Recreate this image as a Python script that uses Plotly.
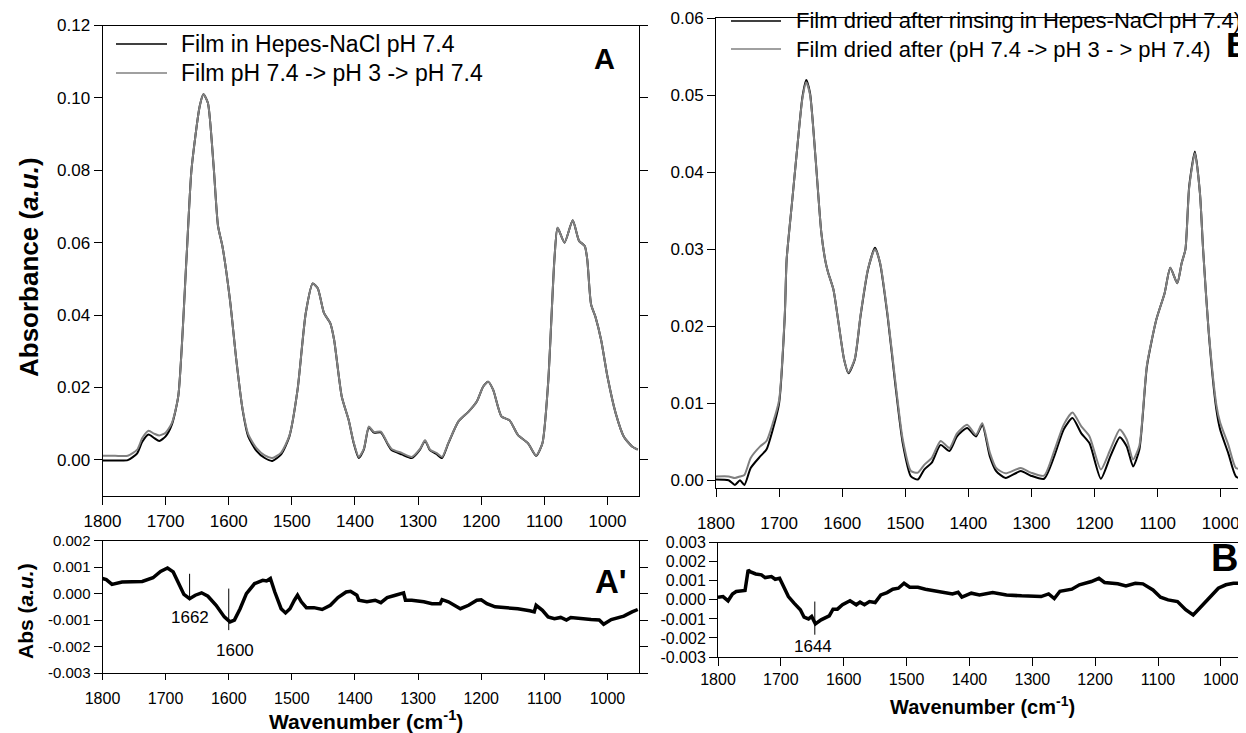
import plotly.graph_objects as go

# ---------------- Panel A : spectra in solution ----------------
wn_A = [1800, 1780, 1760, 1745, 1737, 1727, 1718, 1710, 1700, 1690, 1680, 1667, 1659, 1646, 1640,
        1633, 1624, 1617, 1610, 1598, 1588, 1578, 1569, 1556, 1543, 1531, 1517, 1504, 1491, 1478,
        1467, 1459, 1449, 1439, 1433, 1421, 1410, 1402, 1394, 1386, 1378, 1370, 1359, 1349, 1342,
        1326, 1310, 1297, 1289, 1281, 1271, 1262, 1252, 1236, 1220, 1207, 1197, 1189, 1181, 1168,
        1155, 1142, 1126, 1113, 1103, 1094, 1084, 1079, 1068, 1055, 1045, 1036, 1032, 1026, 1019,
        1010, 1000, 987, 974, 961, 952]
absA_black = [-0.0002, -0.0002, -0.0001, 0.0018, 0.0050, 0.0070, 0.0060, 0.0052, 0.0065, 0.0098, 0.0175,
              0.0554, 0.0802, 0.0977, 0.1010, 0.0986, 0.0812, 0.0646, 0.0590, 0.0441, 0.0276, 0.0138,
              0.0064, 0.0025, 0.0005, -0.0003, 0.0015, 0.0064, 0.0193, 0.0405, 0.0487, 0.0474, 0.0405,
              0.0377, 0.0331, 0.0175, 0.0110, 0.0046, 0.0005, 0.0028, 0.0090, 0.0075, 0.0076, 0.0046,
              0.0027, 0.0015, 0.0005, 0.0028, 0.0053, 0.0026, 0.0016, 0.0005, 0.0046, 0.0106, 0.0133,
              0.0161, 0.0202, 0.0216, 0.0193, 0.0120, 0.0109, 0.0069, 0.0046, 0.0011, 0.0046, 0.0211,
              0.0554, 0.0641, 0.0600, 0.0662, 0.0605, 0.0591, 0.0554, 0.0430, 0.0395, 0.0331, 0.0230,
              0.0129, 0.0064, 0.0037, 0.0028]
absA_gray = [0.0011, 0.0011, 0.0011, 0.0028, 0.0060, 0.0080, 0.0072, 0.0067, 0.0075, 0.0102, 0.0175,
             0.0554, 0.0802, 0.0977, 0.1010, 0.0986, 0.0812, 0.0646, 0.0590, 0.0441, 0.0276, 0.0140,
             0.0070, 0.0032, 0.0012, 0.0005, 0.0020, 0.0066, 0.0193, 0.0405, 0.0487, 0.0474, 0.0405,
             0.0377, 0.0331, 0.0175, 0.0110, 0.0048, 0.0008, 0.0030, 0.0092, 0.0077, 0.0078, 0.0048,
             0.0030, 0.0019, 0.0008, 0.0030, 0.0054, 0.0028, 0.0019, 0.0008, 0.0047, 0.0106, 0.0133,
             0.0161, 0.0202, 0.0216, 0.0193, 0.0120, 0.0109, 0.0069, 0.0046, 0.0012, 0.0046, 0.0211,
             0.0554, 0.0641, 0.0600, 0.0662, 0.0605, 0.0591, 0.0554, 0.0430, 0.0395, 0.0331, 0.0230,
             0.0129, 0.0064, 0.0037, 0.0028]

# ---------------- Panel A' : difference ----------------
wn_Ap = [1800, 1794, 1785, 1769, 1737, 1720, 1708, 1697, 1688, 1679, 1671, 1662, 1653, 1643, 1633,
         1620, 1607, 1598, 1591, 1582, 1572, 1559, 1546, 1540, 1534, 1527, 1517, 1510, 1503, 1496,
         1491, 1485, 1477, 1465, 1452, 1439, 1427, 1414, 1407, 1397, 1394, 1381, 1368, 1359, 1349,
         1336, 1323, 1320, 1310, 1291, 1278, 1265, 1262, 1252, 1233, 1220, 1207, 1200, 1191, 1178,
         1161, 1142, 1123, 1116, 1113, 1103, 1094, 1084, 1074, 1065, 1058, 1045, 1026, 1013, 1006,
         994, 974, 961, 952]
diffA = [0.00057, 0.00053, 0.00035, 0.00044, 0.00046, 0.00060, 0.00084, 0.00097, 0.00082, 0.00038,
         -0.00003, -0.00019, -0.00006, 0.00003, -0.00010, -0.00044, -0.00088, -0.00107, -0.00100,
         -0.00057, 0.00000, 0.00038, 0.00050, 0.00048, 0.00057, 0.00006, -0.00057, -0.00073, -0.00057,
         -0.00025, -0.00006, -0.00031, -0.00053, -0.00053, -0.00060, -0.00044, -0.00015, 0.00006,
         0.00009, -0.00006, -0.00025, -0.00031, -0.00025, -0.00034, -0.00015, -0.00006, 0.00003,
         -0.00025, -0.00025, -0.00031, -0.00038, -0.00038, -0.00023, -0.00031, -0.00057, -0.00044,
         -0.00025, -0.00023, -0.00038, -0.00050, -0.00053, -0.00057, -0.00065, -0.00069, -0.00044,
         -0.00063, -0.00088, -0.00095, -0.00090, -0.00100, -0.00090, -0.00094, -0.00098, -0.00100,
         -0.00116, -0.00098, -0.00085, -0.00069, -0.00060]

# ---------------- Panel B : dried films ----------------
wn_B = [1800, 1780, 1770, 1762, 1755, 1745, 1730, 1720, 1710, 1700, 1691, 1688, 1679, 1669, 1663,
        1657, 1651, 1642, 1633, 1626, 1622, 1614, 1605, 1597, 1590, 1580, 1571, 1559, 1548, 1540,
        1528, 1516, 1504, 1491, 1480, 1470, 1458, 1444, 1430, 1418, 1402, 1388, 1378, 1366, 1356,
        1341, 1317, 1301, 1280, 1264, 1249, 1235, 1221, 1208, 1190, 1175, 1160, 1149, 1139, 1129,
        1117, 1102, 1089, 1080, 1069, 1062, 1056, 1050, 1041, 1033, 1028, 1019, 1007, 1001, 988,
        976, 964]
absB_black = [0.0001, 0.0000, -0.0006, 0.0000, -0.0006, 0.0016, 0.0031, 0.0040, 0.0066, 0.0100, 0.0213,
              0.0287, 0.0365, 0.0451, 0.0498, 0.0520, 0.0503, 0.0416, 0.0321, 0.0282, 0.0269, 0.0248,
              0.0200, 0.0157, 0.0139, 0.0157, 0.0213, 0.0274, 0.0302, 0.0282, 0.0213, 0.0126, 0.0048,
              0.0005, 0.0001, 0.0014, 0.0023, 0.0046, 0.0038, 0.0057, 0.0068, 0.0057, 0.0072, 0.0031,
              0.0012, 0.0003, 0.0012, 0.0006, 0.0002, 0.0031, 0.0066, 0.0081, 0.0061, 0.0048, 0.0002,
              0.0031, 0.0056, 0.0044, 0.0018, 0.0040, 0.0148, 0.0209, 0.0243, 0.0276, 0.0256, 0.0282,
              0.0300, 0.0382, 0.0427, 0.0373, 0.0300, 0.0191, 0.0092, 0.0066, 0.0035, 0.0005, 0.0001]
absB_gray = [0.0005, 0.0005, 0.0003, 0.0005, 0.0007, 0.0029, 0.0044, 0.0051, 0.0074, 0.0104, 0.0215,
             0.0287, 0.0365, 0.0451, 0.0496, 0.0517, 0.0501, 0.0416, 0.0321, 0.0282, 0.0269, 0.0248,
             0.0200, 0.0157, 0.0140, 0.0158, 0.0214, 0.0275, 0.0300, 0.0283, 0.0215, 0.0130, 0.0053,
             0.0012, 0.0010, 0.0020, 0.0029, 0.0051, 0.0042, 0.0061, 0.0072, 0.0059, 0.0074, 0.0036,
             0.0016, 0.0009, 0.0016, 0.0010, 0.0006, 0.0038, 0.0072, 0.0088, 0.0070, 0.0057, 0.0014,
             0.0040, 0.0066, 0.0053, 0.0027, 0.0045, 0.0150, 0.0209, 0.0243, 0.0276, 0.0256, 0.0282,
             0.0300, 0.0380, 0.0425, 0.0373, 0.0300, 0.0193, 0.0098, 0.0075, 0.0046, 0.0016, 0.0014]

# ---------------- Panel B' : difference ----------------
wn_Bp = [1800, 1792, 1784, 1777, 1771, 1761, 1757, 1752, 1749, 1740, 1731, 1725, 1715, 1709, 1702,
         1697, 1688, 1679, 1669, 1663, 1656, 1651, 1645, 1636, 1623, 1617, 1610, 1602, 1590, 1580,
         1574, 1567, 1559, 1550, 1541, 1531, 1522, 1513, 1504, 1495, 1482, 1470, 1458, 1446, 1427,
         1418, 1412, 1397, 1384, 1363, 1341, 1317, 1286, 1274, 1265, 1256, 1237, 1225, 1206, 1194,
         1185, 1164, 1151, 1136, 1124, 1108, 1096, 1084, 1069, 1056, 1044, 1032, 1016, 1004, 992,
         980, 963]
diffB = [0.00014, 0.00017, -0.00005, 0.00031, 0.00044, 0.00049, 0.00049, 0.00157, 0.00148, 0.00136,
         0.00131, 0.00117, 0.00122, 0.00108, 0.00113, 0.00079, 0.00017, -0.00017, -0.00052, -0.00091,
         -0.00100, -0.00087, -0.00126, -0.00105, -0.00084, -0.00049, -0.00049, -0.00026, -0.00005,
         -0.00026, -0.00012, -0.00026, -0.00009, -0.00014, 0.00026, 0.00038, 0.00056, 0.00061, 0.00087,
         0.00066, 0.00066, 0.00056, 0.00049, 0.00038, 0.00031, 0.00040, 0.00014, 0.00035, 0.00026,
         0.00038, 0.00026, 0.00021, 0.00017, 0.00031, 0.00007, 0.00045, 0.00056, 0.00079, 0.00096,
         0.00113, 0.00091, 0.00084, 0.00073, 0.00087, 0.00084, 0.00052, 0.00014, 0.00000, -0.00009,
         -0.00052, -0.00079, -0.00038, 0.00017, 0.00061, 0.00079, 0.00087, 0.00087]

# ---------------- tick labels & text ----------------
x_ticks = [1800, 1700, 1600, 1500, 1400, 1300, 1200, 1100, 1000]
x_ticktext = ["1800", "1700", "1600", "1500", "1400", "1300", "1200", "1100", "1000"]
yA_ticks = [0.00, 0.02, 0.04, 0.06, 0.08, 0.10, 0.12]
yA_ticktext = ["0.00", "0.02", "0.04", "0.06", "0.08", "0.10", "0.12"]
yAp_ticks = [-0.003, -0.002, -0.001, 0.000, 0.001, 0.002]
yAp_ticktext = ["-0.003", "-0.002", "-0.001", "0.000", "0.001", "0.002"]
yB_ticks = [0.00, 0.01, 0.02, 0.03, 0.04, 0.05, 0.06]
yB_ticktext = ["0.00", "0.01", "0.02", "0.03", "0.04", "0.05", "0.06"]
yBp_ticks = [-0.003, -0.002, -0.001, 0.000, 0.001, 0.002, 0.003]
yBp_ticktext = ["-0.003", "-0.002", "-0.001", "0.000", "0.001", "0.002", "0.003"]

legend_A = ["Film in Hepes-NaCl pH 7.4", "Film pH 7.4 -> pH 3 -> pH 7.4"]
legend_B = ["Film dried after rinsing in Hepes-NaCl pH 7.4)", "Film dried after (pH 7.4 -> pH 3 - > pH 7.4)"]
peaks_Ap = [1662, 1600]
peaks_Bp = [1644]

BLACK = "#000000"
GRAY = "#808080"
FONT = "Liberation Sans, Arial, Helvetica, sans-serif"
OFF = 8                      # html body margin before the figure
W, H = 1246 - OFF, 733 - OFF


def px(x):
    """screen pixel x -> paper coordinate"""
    return (x - OFF) / W


def py(y):
    """screen pixel y -> paper coordinate"""
    return 1 - (y - OFF) / H


fig = go.Figure()

fig.add_trace(go.Scatter(x=wn_A, y=absA_black, mode="lines", line=dict(color=BLACK, width=2, shape="spline", smoothing=0.6),
                         xaxis="x", yaxis="y", showlegend=False))
fig.add_trace(go.Scatter(x=wn_A, y=absA_gray, mode="lines", line=dict(color=GRAY, width=2, shape="spline", smoothing=0.6),
                         xaxis="x", yaxis="y", showlegend=False))
fig.add_trace(go.Scatter(x=wn_Ap, y=diffA, mode="lines", line=dict(color=BLACK, width=3.5),
                         xaxis="x2", yaxis="y2", showlegend=False))
fig.add_trace(go.Scatter(x=wn_B, y=absB_black, mode="lines", line=dict(color=BLACK, width=2, shape="spline", smoothing=0.6),
                         xaxis="x3", yaxis="y3", showlegend=False))
fig.add_trace(go.Scatter(x=wn_B, y=absB_gray, mode="lines", line=dict(color=GRAY, width=2, shape="spline", smoothing=0.6),
                         xaxis="x3", yaxis="y3", showlegend=False))
fig.add_trace(go.Scatter(x=wn_Bp, y=diffB, mode="lines", line=dict(color=BLACK, width=3.5),
                         xaxis="x4", yaxis="y4", showlegend=False))


def xax(domain, anchor, fs, rng, standoff=0, ticklen=8):
    return dict(domain=domain, anchor=anchor, range=rng, tickvals=x_ticks, ticktext=x_ticktext,
                showline=True, linecolor=BLACK, linewidth=1, mirror=True, ticks="outside", ticklen=ticklen,
                tickcolor=BLACK, showgrid=False, zeroline=False, automargin=False,
                ticklabeloverflow="allow", ticklabelstandoff=standoff,
                tickfont=dict(size=fs, color=BLACK, family=FONT))


def yax(domain, anchor, rng, tv, tt, fs, mirror="ticks"):
    return dict(domain=domain, anchor=anchor, range=rng, tickvals=tv, ticktext=tt,
                showline=True, linecolor=BLACK, linewidth=1, mirror=mirror, ticks="outside", ticklen=8,
                tickcolor=BLACK, showgrid=False, zeroline=False, automargin=False,
                ticklabeloverflow="allow", tickfont=dict(size=fs, color=BLACK, family=FONT))


xA = [px(102.5), px(639)]
xB = [px(716), 1.0]
xBp = [px(718), 1.0]

fig.update_layout(
    width=W, height=H,
    margin=dict(l=0, r=0, t=0, b=0, pad=0, autoexpand=False),
    paper_bgcolor="white", plot_bgcolor="white",
    font=dict(family=FONT, color=BLACK),
    xaxis=xax(xA, "y", 17, [1800, 950], 2),
    yaxis=yax([py(496), py(25.5)], "x", [-0.01, 0.12], yA_ticks, yA_ticktext, 17),
    xaxis2=xax(xA, "y2", 16, [1800, 950], 5, ticklen=6),
    yaxis2=yax([py(673), py(540.7)], "x2", [-0.003, 0.002], yAp_ticks, yAp_ticktext, 15),
    xaxis3=xax(xB, "y3", 17, [1800, 960], 12),
    yaxis3=yax([py(488), py(18.3)], "x3", [-0.001, 0.06], yB_ticks, yB_ticktext, 17, mirror=False),
    xaxis4=xax(xBp, "y4", 16, [1800, 960], 0),
    yaxis4=yax([py(657), py(542.7)], "x4", [-0.003, 0.003], yBp_ticks, yBp_ticktext, 16, mirror=False),
)

shapes = []
annotations = []


def text(t, x, y, size, xanchor="center", yanchor="middle", angle=0):
    return dict(text=t, xref="paper", yref="paper", x=px(x), y=py(y), xanchor=xanchor, yanchor=yanchor,
                textangle=angle, showarrow=False, font=dict(size=size, family=FONT, color=BLACK))


# legends (drawn manually)
for i, (txt, col) in enumerate(zip(legend_A, [BLACK, GRAY])):
    yy = [44, 73][i]
    shapes.append(dict(type="line", xref="paper", yref="paper", x0=px(116), x1=px(167), y0=py(yy), y1=py(yy),
                       line=dict(color=col, width=1.5)))
    annotations.append(text(txt, 179, yy, 23, xanchor="left"))
for i, (txt, col) in enumerate(zip(legend_B, [BLACK, GRAY])):
    yy = [21, 49][i]
    shapes.append(dict(type="line", xref="paper", yref="paper", x0=px(731), x1=px(781), y0=py(yy), y1=py(yy),
                       line=dict(color=col, width=1.5)))
    annotations.append(text(txt, 794, yy, 22, xanchor="left"))

# panel letters
annotations += [
    text("<b>A</b>", 604, 59, 29),
    text("<b>A'</b>", 611, 581, 33),
    text("<b>B</b>", 1224, 44, 35, xanchor="left"),
    text("<b>B'</b>", 1209, 558, 38, xanchor="left"),
]

# axis titles
annotations += [
    text("<b>Absorbance (<i>a.u.</i>)</b>", 29, 267, 26, angle=-90),
    text("<b>Abs (<i>a.u.</i>)</b>", 25, 611, 21, angle=-90),
    text("<b>Wavenumber (cm<sup>-1</sup>)</b>", 366, 720, 21),
    text("<b>Wavenumber (cm<sup>-1</sup>)</b>", 982, 705, 20),
]

# peak markers in difference spectra
pk_lines_Ap = [(0.00075, -0.00025), (0.00019, -0.00138)]
pk_labels_Ap = [(1662, -0.00092), (1590, -0.00214)]
for p, (y0, y1), (lx, ly) in zip(peaks_Ap, pk_lines_Ap, pk_labels_Ap):
    shapes.append(dict(type="line", xref="x2", yref="y2", x0=p, x1=p, y0=y0, y1=y1, line=dict(color=BLACK, width=1)))
    annotations.append(dict(text=str(p), xref="x2", yref="y2", x=lx, y=ly, xanchor="center", yanchor="middle",
                            showarrow=False, font=dict(size=17, family=FONT, color=BLACK)))
for p in peaks_Bp:
    shapes.append(dict(type="line", xref="x4", yref="y4", x0=p + 2, x1=p + 2, y0=-0.00009, y1=-0.00183,
                       line=dict(color=BLACK, width=1)))
    annotations.append(dict(text=str(p), xref="x4", yref="y4", x=p + 5, y=-0.00244, xanchor="center",
                            yanchor="middle", showarrow=False, font=dict(size=17, family=FONT, color=BLACK)))

fig.update_layout(shapes=shapes, annotations=annotations)
fig.write_html("out.html")
